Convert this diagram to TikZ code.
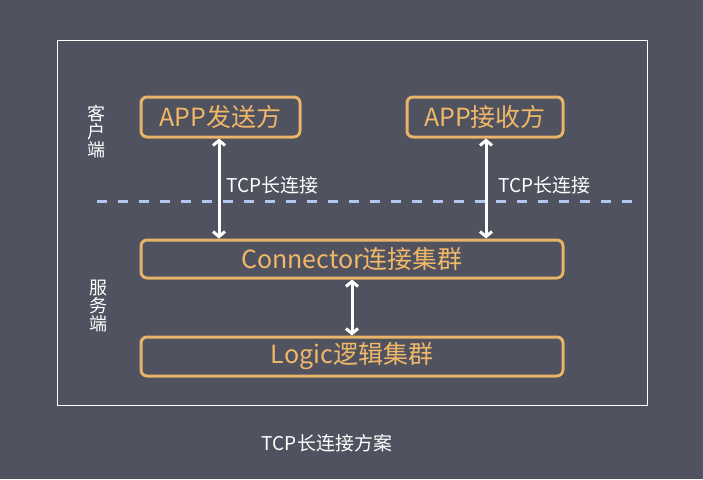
\documentclass[tikz,border=0pt]{standalone}
\usepackage{fontspec}
\setmainfont{Noto Sans CJK SC}
\usetikzlibrary{arrows.meta,shadows}
\definecolor{bg}{HTML}{50535F}
\definecolor{boxc}{HTML}{E8B46A}
\definecolor{txtc}{HTML}{F0B868}
\definecolor{dashc}{HTML}{B2C6F2}
\tikzset{
  x=1pt,y=-1pt,
  box/.style={draw=boxc,line width=3pt,rounded corners=6pt,fill=bg,text=txtc,font=\fontsize{25}{27}\selectfont,inner sep=0pt,
    drop shadow={shadow xshift=1.5pt,shadow yshift=-1.5pt,opacity=0.35,fill=black}},
  conn/.style={draw=white,line width=3pt,{Straight Barb[length=5pt,width=12pt]}-{Straight Barb[length=5pt,width=12pt]}},
  lbl/.style={text=white,font=\fontsize{19}{21}\selectfont,inner sep=0pt},
  side/.style={text=white,font=\fontsize{18}{18}\selectfont,align=center,inner sep=0pt}
}
\begin{document}
\begin{tikzpicture}
\fill[bg] (0,0) rectangle (703,479);
\useasboundingbox (0,0) rectangle (703,479);
\draw[white,line width=1pt] (57,40) rectangle (647,405);
\draw[dashc,line width=3pt,dash pattern=on 10pt off 11pt] (97,201) -- (633,201);
\node[box,minimum width=159pt,minimum height=40pt] (snd) at (220.5,117) {APP发送方};
\node[box,minimum width=156pt,minimum height=40pt] (rcv) at (485,117) {APP接收方};
\node[box,minimum width=422pt,minimum height=38pt] (cn) at (352,259) {Connector连接集群};
\node[box,minimum width=422pt,minimum height=39pt] (lg) at (352,356.5) {Logic逻辑集群};
\draw[conn] (snd.south -| 219,0) -- (cn.north -| 219,0);
\draw[conn] (rcv.south -| 486,0) -- (cn.north -| 486,0);
\draw[conn] (cn.south) -- (lg.north);
\node[lbl,anchor=west] (l1) at (226,185) {TCP长连接};
\node[lbl,anchor=west] (l2) at (498,185) {TCP长连接};
\node[side] (cs) at (96,132) {客\\户\\端};
\node[side] (ss) at (98,306) {服\\务\\端};
\node[lbl] (cap) at (327,443) {TCP长连接方案};
\end{tikzpicture}
\end{document}
